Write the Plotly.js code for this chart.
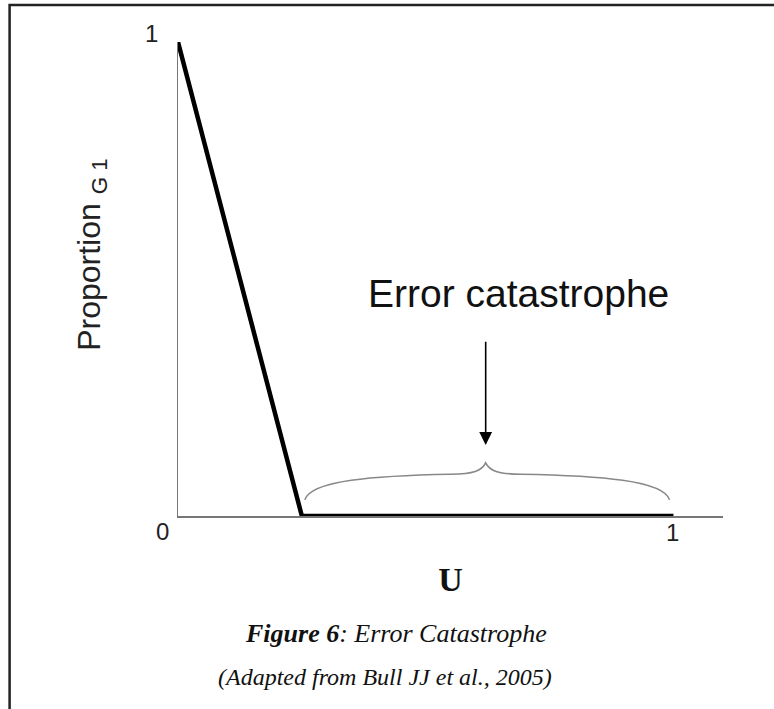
<!DOCTYPE html>
<html>
<head>
<meta charset="utf-8">
<script src="https://cdn.plot.ly/plotly-3.0.1.min.js"></script>
<style>html,body{margin:0;padding:0;background:#fff;}</style>
</head>
<body>
<div id="chart" style="width:774px;height:709px;"></div>
<script>
// Data
const uValues = [0, 0.25, 1];
const proportionG1 = [1, 0, 0];
const tickLabels = ['0', '1'];
const braceRange = [0.256, 0.992];   // extent of the "error catastrophe" region
const arrowU = 0.621;                // where the arrow points
const labelText = 'Error catastrophe';
const xTitle = '<b>U</b>';
const yTitle = 'Proportion <sub>G 1</sub>';
const caption1 = '<b><i>Figure 6</i></b><i>: Error Catastrophe</i>';
const caption2 = '<i>(Adapted from Bull JJ et al., 2005)</i>';

const sans = 'Liberation Sans, Arial, sans-serif';
const serif = 'Liberation Serif, Times New Roman, serif';

const trace = {
  x: uValues, y: proportionG1, type: 'scatter', mode: 'lines',
  line: {color: '#000', width: 4.5}, cliponaxis: false, hoverinfo: 'skip', showlegend: false
};

const b0 = braceRange[0], b1 = braceRange[1], bm = arrowU;
const bracePath = `M ${b0},0.034 C ${b0+0.012},0.075 ${b0+0.14},0.085 ${bm-0.07},0.088 ` +
  `C ${bm-0.025},0.089 ${bm-0.008},0.095 ${bm},0.112 ` +
  `C ${bm+0.008},0.095 ${bm+0.025},0.089 ${bm+0.07},0.088 ` +
  `C ${b1-0.14},0.085 ${b1-0.012},0.075 ${b1},0.034`;

const layout = {
  width: 774, height: 709,
  paper_bgcolor: '#fff', plot_bgcolor: '#fff',
  margin: {l: 178, r: 51, t: 42, b: 193},
  showlegend: false,
  xaxis: {
    range: [0, 1.1], showline: true, linecolor: '#777', linewidth: 1.5,
    showgrid: false, zeroline: false, ticks: '', showticklabels: false, fixedrange: true,
    title: {text: xTitle, font: {family: serif, size: 34, color: '#111'}, standoff: 50}
  },
  yaxis: {
    range: [0, 1], showline: true, linecolor: '#777', linewidth: 1.5,
    showgrid: false, zeroline: false, ticks: '', showticklabels: false, fixedrange: true
  },
  shapes: [
    {type: 'path', xref: 'x', yref: 'y', path: bracePath, line: {color: '#888', width: 1.6}},
    {type: 'rect', xref: 'paper', yref: 'paper', x0: -0.309, x1: 1.2, y0: -0.6, y1: 1.078,
     line: {color: '#222', width: 2.5}, fillcolor: 'rgba(0,0,0,0)', layer: 'below'}
  ],
  annotations: [
    {xref: 'x', yref: 'y', x: 0, y: 0.551, text: yTitle, textangle: -90, showarrow: false,
     xanchor: 'center', yanchor: 'middle', xshift: -86, font: {family: sans, size: 32, color: '#222'}},
    {xref: 'x', yref: 'y', x: 0, y: 0, text: tickLabels[0], showarrow: false,
     xshift: -16, yshift: -15, font: {family: sans, size: 24, color: '#222'}},
    {xref: 'x', yref: 'y', x: 0, y: 1, text: tickLabels[1], showarrow: false,
     xshift: -27, yshift: 9, font: {family: sans, size: 24, color: '#222'}},
    {xref: 'x', yref: 'y', x: 1, y: 0, text: tickLabels[1], showarrow: false,
     xshift: -1, yshift: -16, font: {family: sans, size: 24, color: '#222'}},
    {xref: 'x', yref: 'y', x: arrowU, y: 0.15, ax: arrowU, ay: 0.371, axref: 'x', ayref: 'y',
     text: '', showarrow: true, arrowhead: 2, arrowsize: 1.6, arrowwidth: 1.6, arrowcolor: '#000'},
    {xref: 'x', yref: 'y', x: arrowU, y: 0.469, text: labelText, showarrow: false,
     xanchor: 'left', yanchor: 'middle', xshift: -120, font: {family: sans, size: 39, color: '#111'}},
    {xref: 'paper', yref: 'paper', x: 0.400, y: -0.247, text: caption1, showarrow: false,
     xanchor: 'center', yanchor: 'middle', font: {family: serif, size: 26, color: '#111'}},
    {xref: 'paper', yref: 'paper', x: 0.380, y: -0.340, text: caption2, showarrow: false,
     xanchor: 'center', yanchor: 'middle', font: {family: serif, size: 24, color: '#111'}}
  ]
};

Plotly.newPlot('chart', [trace], layout, {displayModeBar: false, staticPlot: true});
</script>
</body>
</html>
